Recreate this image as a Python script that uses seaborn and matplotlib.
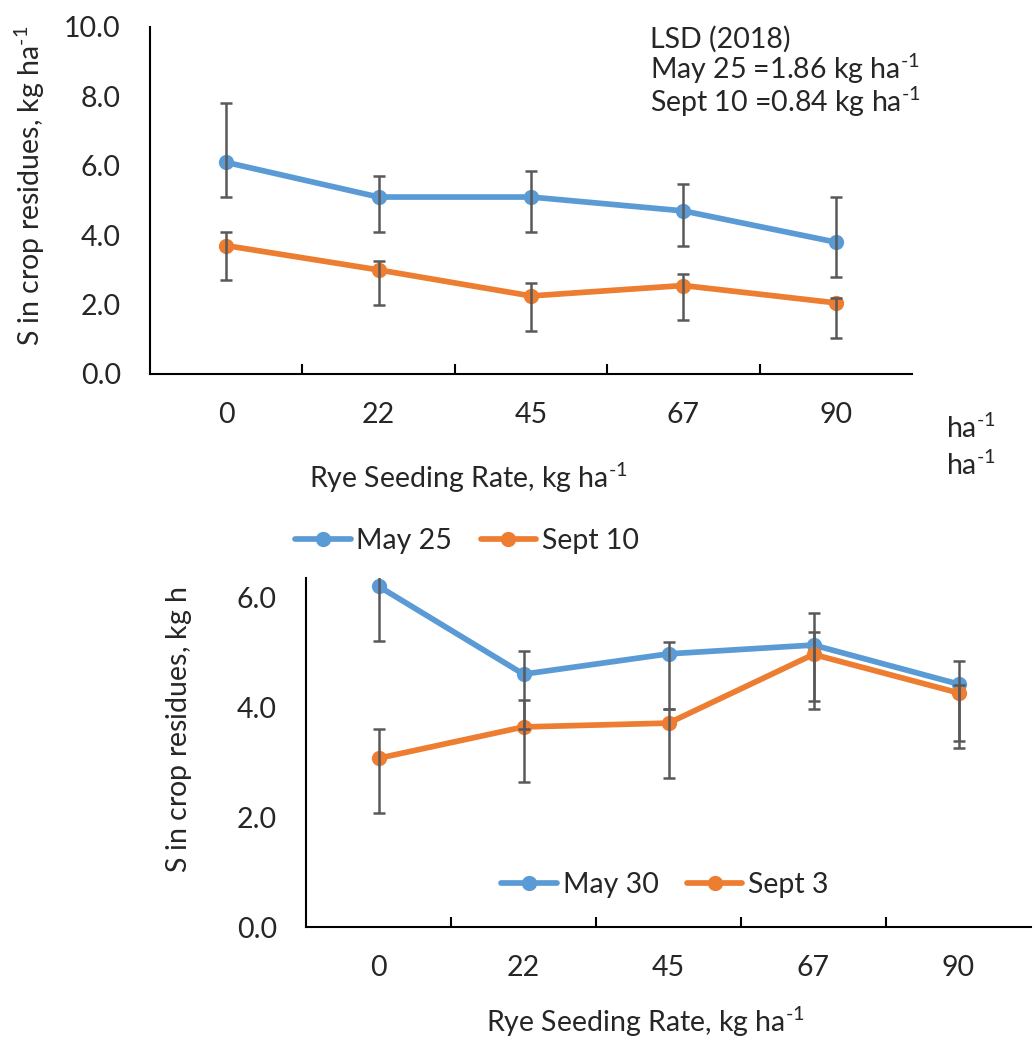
import numpy as np
import pandas as pd
import matplotlib
matplotlib.use("Agg")
import matplotlib.pyplot as plt
from matplotlib.lines import Line2D
from matplotlib.transforms import Bbox, TransformedBbox
import seaborn as sns

# seeding rates (x categories)
rates = ['0', '22', '45', '67', '90']

# 2018 panel
may25 = [6.1, 5.1, 5.1, 4.7, 3.8]
may25_up = [1.7, 0.6, 0.75, 0.77, 1.3]
may25_lo = [1.0, 1.0, 1.0, 1.0, 1.0]
sept10 = [3.7, 3.0, 2.25, 2.55, 2.05]
sept10_up = [0.4, 0.27, 0.38, 0.34, 0.15]
sept10_lo = [1.0, 1.0, 1.0, 1.0, 1.0]

# second panel
may30 = [6.2, 4.6, 4.97, 5.13, 4.42]
may30_up = [0.8, 0.42, 0.22, 0.58, 0.42]
may30_lo = [1.0, 1.0, 1.0, 1.02, 1.03]
sept3 = [3.07, 3.64, 3.71, 4.96, 4.26]
sept3_up = [0.53, 0.49, 0.25, 0.41, 0.15]
sept3_lo = [1.0, 1.0, 1.0, 1.0, 1.0]

BLUE = '#5B9BD5'
ORANGE = '#ED7D31'
GREY = '#595959'

sns.set_theme(style='white')
plt.rcParams['font.family'] = ['Lato', 'DejaVu Sans']
plt.rcParams['mathtext.fontset'] = 'custom'
plt.rcParams['mathtext.rm'] = 'Lato'
plt.rcParams['mathtext.default'] = 'regular'

FS = 20.5
UNIT = 'ha$^{\\text{-1}}$'
W, H = 1034, 1038

fig = plt.figure(figsize=(W / 100, H / 100), dpi=100)


def px_axes(left, top, right, bottom):
    return fig.add_axes([left / W, 1 - bottom / H, (right - left) / W, (bottom - top) / H])


def panel(ax, names, vals, ups, los, ylim, yticks):
    pos = np.arange(len(rates))
    df = pd.DataFrame({
        'pos': np.concatenate([pos, pos]),
        'value': vals[0] + vals[1],
        'date': [names[0]] * len(rates) + [names[1]] * len(rates),
    })
    sns.lineplot(data=df, x='pos', y='value', hue='date', palette=[BLUE, ORANGE],
                 marker='o', markersize=11, markeredgewidth=0, linewidth=4.1,
                 legend=False, ax=ax, zorder=3)
    for v, u, l in zip(vals, ups, los):
        ax.errorbar(pos, v, yerr=[l, u], fmt='none', ecolor=GREY, elinewidth=1.8,
                    capsize=4.3, capthick=1.8, zorder=5)
    ax.set_xlim(-0.5, 4.5)
    ax.set_ylim(*ylim)
    ax.set_xticks(pos)
    ax.set_xticklabels(rates, fontsize=FS)
    ax.set_xticks(np.arange(0.5, 4, 1), minor=True)
    ax.set_yticks(yticks)
    ax.set_yticklabels(['%.1f' % t for t in yticks], fontsize=FS)
    ax.tick_params(axis='x', which='major', length=0, pad=20)
    ax.tick_params(axis='x', which='minor', direction='in', length=7, width=1.5,
                   color='black', bottom=True)
    ax.tick_params(axis='y', length=0, pad=21)
    for s in ['top', 'right']:
        ax.spines[s].set_visible(False)
    for s in ['left', 'bottom']:
        ax.spines[s].set_color('black')
        ax.spines[s].set_linewidth(1.5)
    ax.set_xlabel('Rye Seeding Rate, kg ' + UNIT, fontsize=FS)
    ax.set_ylabel('')


def handles(names):
    return [Line2D([], [], color=c, marker='o', markersize=11, markeredgewidth=0,
                   linewidth=4.1, label=n) for c, n in zip([BLUE, ORANGE], names)]


# top panel
ax1 = px_axes(150, 27, 912, 374)
panel(ax1, ['May 25', 'Sept 10'], [may25, sept10], [may25_up, sept10_up],
      [may25_lo, sept10_lo], (0, 10), [0, 2, 4, 6, 8, 10])
ax1.xaxis.set_label_coords((468 - 150) / 762, (374 - 478) / 347)
ax1.xaxis.label.set_va('center')
fig.text(30 / W, 1 - 186 / H, 'S in crop residues, kg ' + UNIT, rotation=90,
         ha='center', va='center', fontsize=FS)
fig.text(650 / W, 1 - 26 / H,
         'LSD (2018)\nMay 25 =1.86 kg ' + UNIT + '\nSept 10 =0.84 kg ' + UNIT,
         ha='left', va='top', fontsize=FS, linespacing=0.95)
fig.legend(handles=handles(['May 25', 'Sept 10']), loc='center',
           bbox_to_anchor=(467 / W, 1 - 541 / H), ncol=2, frameon=False,
           fontsize=FS, handlelength=1.95, handletextpad=0.2, columnspacing=1.0)

# stray unit labels on the right
fig.text(946 / W, 1 - 428 / H, UNIT, ha='left', va='center', fontsize=FS)
fig.text(946 / W, 1 - 465 / H, UNIT, ha='left', va='center', fontsize=FS)

# bottom panel
ax2 = px_axes(306, 578, 1031, 927)
panel(ax2, ['May 30', 'Sept 3'], [may30, sept3], [may30_up, sept3_up],
      [may30_lo, sept3_lo], (0, 6.35), [0, 2, 4, 6])
ax2.xaxis.set_label_coords((645 - 306) / 725, (927 - 1022) / 349)
ax2.xaxis.label.set_va('center')
yl = fig.text(178 / W, 1 - 873 / H, 'S in crop residues, kg ' + UNIT, rotation=90,
              ha='center', va='bottom', fontsize=FS)
yl.set_clip_on(True)
yl.set_clip_box(TransformedBbox(Bbox([[0, 0], [1, 1 - 587 / H]]), fig.transFigure))
fig.legend(handles=handles(['May 30', 'Sept 3']), loc='center',
           bbox_to_anchor=(665 / W, 1 - 885 / H), ncol=2, frameon=False,
           fontsize=FS, handlelength=1.95, handletextpad=0.2, columnspacing=1.0)

fig.savefig('out.png', dpi=100)
